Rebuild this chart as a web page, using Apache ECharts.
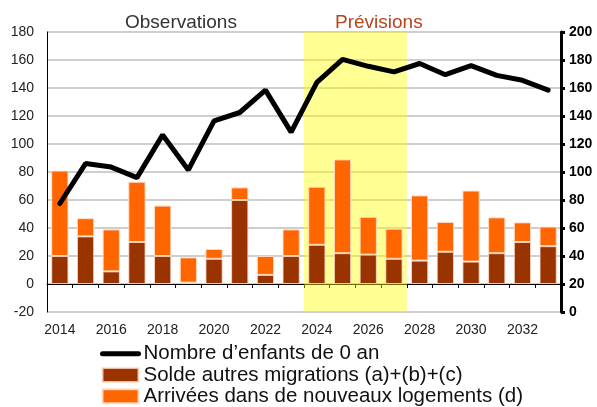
<!DOCTYPE html>
<html><head><meta charset="utf-8">
<script src="https://cdn.jsdelivr.net/npm/echarts@6/dist/echarts.min.js"></script>
<style>html,body{margin:0;padding:0;background:#fff}#c{width:597px;height:407px}</style>
</head><body><div id="c"></div>
<script>
const years = ['2014','2015','2016','2017','2018','2019','2020','2021','2022','2023','2024','2025','2026','2027','2028','2029','2030','2031','2032','2033'];
const solde = [20,34,9,30,20,1,18,60,6.5,20,28,22,21,18,16.7,23,16,22,30,27];
const arrivees = [61,13,30,43,36,18,7,9,13.5,19,41.5,67,27,21.5,46.6,21.3,50.7,25.6,14,14];
const enfants = [77.5,106,103.5,96,126.5,101.5,136.5,142.5,158.5,128.5,164,180.5,175.5,171.5,177.5,169.5,176,169,165.5,158.5];
const leftTicks = {min:-20, max:180, interval:20};
const rightTicks = {min:0, max:200, interval:20};
const forecastStart = '2024', forecastEnd = '2027';
const names = ["Nombre d\u2019enfants de 0 an", 'Solde autres migrations (a)+(b)+(c)', 'Arrivées dans de nouveaux logements (d)'];

const bandFrom = years.indexOf(forecastStart);
const bandTo = years.indexOf(forecastEnd) + 1;

const chart = echarts.init(document.getElementById('c'), null, {renderer:'canvas'});
const font = 'Liberation Sans, Arial, sans-serif';
chart.setOption({
  animation:false,
  textStyle:{fontFamily:font},
  title:[
    {text:'Observations', left:125, top:13, padding:0, textStyle:{fontSize:19, fontWeight:'normal', color:'#333', fontFamily:font}},
    {text:'Prévisions', left:335, top:13, padding:0, textStyle:{fontSize:19, fontWeight:'normal', color:'#B5451B', fontFamily:font}}
  ],
  grid:{left:47, right:36, top:32, bottom:95, containLabel:false},
  legend:{
    orient:'vertical', left:100, top:343, padding:0, itemWidth:36, itemHeight:14, itemGap:0,
    data:[
      {name:names[0]},
      {name:names[1], icon:'rect'},
      {name:names[2], icon:'rect'}
    ],
    lineStyle:{width:5, cap:'round'},
    textStyle:{fontSize:20.5, color:'#111', lineHeight:21.3, fontFamily:font}
  },
  xAxis:[
    {type:'category', data:years, position:'bottom',
     axisLine:{show:false}, axisTick:{show:false},
     axisLabel:{interval:1, fontSize:14, color:'#222', margin:11, fontFamily:font},
     splitLine:{show:false}},
    {type:'category', data:years, position:'bottom',
     axisLine:{show:true, onZero:true, onZeroAxisIndex:0, lineStyle:{color:'#000', width:1}},
     axisTick:{show:true, interval:0, length:4, lineStyle:{color:'#000', width:1}},
     axisLabel:{show:false}, splitLine:{show:false}},
    {type:'value', min:0, max:years.length, show:false}
  ],
  yAxis:[
    {type:'value', min:leftTicks.min, max:leftTicks.max, interval:leftTicks.interval, position:'left',
     axisLine:{show:true, lineStyle:{color:'#000', width:1}}, axisTick:{show:false},
     axisLabel:{fontSize:14, color:'#222', margin:13, fontFamily:font},
     splitLine:{show:true, lineStyle:{color:'#BEBEBE', width:1.5}}},
    {type:'value', min:rightTicks.min, max:rightTicks.max, interval:rightTicks.interval, position:'right',
     axisLine:{show:true, lineStyle:{color:'#000', width:3}},
     axisTick:{show:true, length:4, lineStyle:{color:'#000', width:3}},
     axisLabel:{fontSize:14, color:'#000', fontWeight:'bold', margin:8, fontFamily:font},
     splitLine:{show:false}}
  ],
  series:[
    {type:'line', name:'__band', data:[], xAxisIndex:2, yAxisIndex:0, silent:true, z:-1,
     markArea:{silent:true, itemStyle:{color:'rgba(255,255,0,0.42)'}, data:[[{xAxis:bandFrom},{xAxis:bandTo}]]}},
    {type:'bar', name:names[1], stack:'s', data:solde, xAxisIndex:0, yAxisIndex:0, barCategoryGap:'33%',
     itemStyle:{color:'#993300', borderColor:'rgba(255,220,200,0.8)', borderWidth:1}},
    {type:'bar', name:names[2], stack:'s', data:arrivees, xAxisIndex:0, yAxisIndex:0, barCategoryGap:'33%',
     itemStyle:{color:'#FF6600', borderColor:'rgba(255,220,200,0.9)', borderWidth:1}},
    {type:'line', name:names[0], data:enfants, xAxisIndex:0, yAxisIndex:1, symbol:'none', z:5,
     lineStyle:{color:'#000', width:5, cap:'round'}, itemStyle:{color:'rgba(0,0,0,0)', borderWidth:0}}
  ]
});
</script></body></html>
